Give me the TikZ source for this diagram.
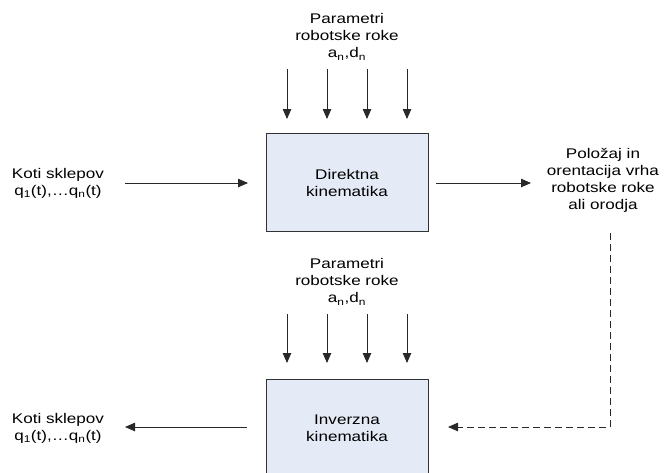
\documentclass[tikz,border=0pt]{standalone}
\usepackage{fontspec}
\setmainfont{Liberation Sans}[FakeStretch=1.22]
\usetikzlibrary{arrows.meta}
\definecolor{boxfill}{RGB}{228,235,246}
\definecolor{boxline}{RGB}{50,50,50}
\definecolor{lineclr}{RGB}{40,40,40}
\begin{document}
\begin{tikzpicture}[x=1pt,y=-1pt,
  txt/.style={inner sep=0pt,align=center,font=\fontsize{14}{17}\selectfont},
  blk/.style={draw=boxline,line width=1pt,fill=boxfill,minimum width=162pt,minimum height=98pt,inner sep=0pt,align=center,font=\fontsize{14}{17}\selectfont},
  conn/.style={draw=lineclr,line width=0.8pt,-{Triangle[length=10pt,width=8.5pt]}},
  dconn/.style={conn,dash pattern=on 7pt off 4pt}]
\useasboundingbox (0,0) rectangle (667,472);
% top block
\node[txt] (par1) at (347,37) {Parametri\\robotske roke\\a\textsubscript{n},d\textsubscript{n}};
\node[blk] (dk) at (347,182.5) {Direktna\\kinematika};
\node[txt] (kin) at (58,183) {Koti sklepov\\q\textsubscript{1}(t),\ldots q\textsubscript{n}(t)};
\node[txt] (pos) at (603,180) {Položaj in\\orentacija vrha\\robotske roke\\ali orodja};
\foreach \i/\x in {1/287,2/327,3/367,4/407}{
  \coordinate (t\i s) at (\x,69);
  \coordinate (t\i e) at (\x,119);
  \draw[conn] (t\i s) -- (t\i e);
}
\coordinate (l1s) at (125,183);
\coordinate (l1e) at (248,183);
\draw[conn] (l1s) -- (l1e);
\coordinate (r1s) at (436,183);
\coordinate (r1e) at (531,183);
\draw[conn] (r1s) -- (r1e);
% bottom block
\node[txt] (par2) at (347,282) {Parametri\\robotske roke\\a\textsubscript{n},d\textsubscript{n}};
\node[blk] (ik) at (347,428) {Inverzna\\kinematika};
\node[txt] (kout) at (58,428) {Koti sklepov\\q\textsubscript{1}(t),\ldots q\textsubscript{n}(t)};
\foreach \i/\x in {1/287,2/327,3/367,4/407}{
  \coordinate (b\i s) at (\x,314);
  \coordinate (b\i e) at (\x,363);
  \draw[conn] (b\i s) -- (b\i e);
}
\coordinate (l2s) at (247,427);
\coordinate (l2e) at (125,427);
\draw[conn] (l2s) -- (l2e);
\coordinate (ds) at (610,233);
\coordinate (dc) at (610,427);
\coordinate (de) at (448,427);
\draw[dconn] (ds) -- (dc) -- (de);
\end{tikzpicture}
\end{document}
